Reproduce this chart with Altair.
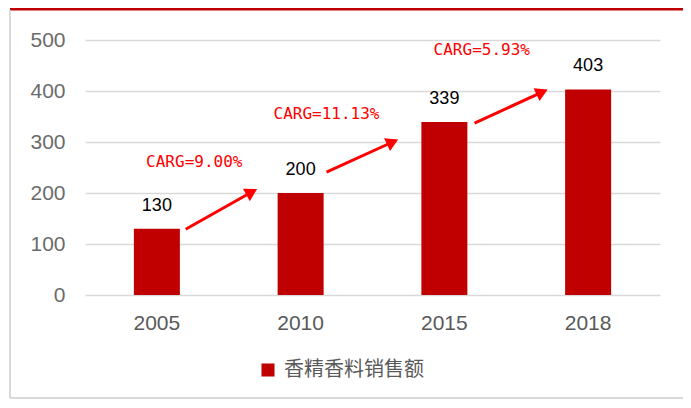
import altair as alt
import pandas as pd

years = ["2005", "2010", "2015", "2018"]
sales = [130, 200, 339, 403]
series_name = "香精香料销售额"

arrow_x0 = [0.70, 1.68, 2.71]
arrow_y0 = [129, 241, 337]
arrow_x1 = [1.16, 2.14, 3.18]
arrow_y1 = [202, 300, 398]
arrow_angle = [61, 65, 65]

note_text = ["CARG=9.00%", "CARG=11.13%", "CARG=5.93%"]
note_x = [0.76, 1.68, 2.76]
note_y = [261, 355, 480]

bars_df = pd.DataFrame({"year": years, "value": sales, "series": [series_name] * 4})
arrows_df = pd.DataFrame({"x0": arrow_x0, "y0": arrow_y0, "x1": arrow_x1, "y1": arrow_y1, "angle": arrow_angle})
notes_df = pd.DataFrame({"text": note_text, "x": note_x, "y": note_y})

W, H = 575, 255
RED = "#C00000"

yscale = alt.Scale(domain=[0, 500])
xband = alt.Scale(paddingInner=0.68, paddingOuter=0.34)

bars = alt.Chart(bars_df).mark_bar(color=RED).encode(
    x=alt.X("year:N", scale=xband, sort=years,
            axis=alt.Axis(title=None, labelAngle=0, domain=False, ticks=False, grid=False,
                          labelPadding=17, labelFontSize=21, labelColor="#595959",
                          labelFont="Liberation Sans")),
    y=alt.Y("value:Q", scale=yscale,
            axis=alt.Axis(title=None, values=[0, 100, 200, 300, 400, 500], domain=False,
                          ticks=False, labelPadding=20, labelFontSize=21,
                          labelColor="#6b6b6b", labelFont="Liberation Sans",
                          gridColor="#D9D9D9", gridWidth=1.5)),
    color=alt.Color("series:N", scale=alt.Scale(range=[RED]),
                    legend=alt.Legend(title=None, orient="none", legendX=173, legendY=320,
                                      symbolType="square", symbolSize=170,
                                      symbolStrokeWidth=0, labelFontSize=20,
                                      labelFont="Noto Sans CJK SC", labelColor="#595959",
                                      labelOffset=6)),
)

labels = alt.Chart(bars_df).mark_text(baseline="bottom", dy=-14, fontSize=18,
                                      font="Liberation Sans", color="black").encode(
    x=alt.X("year:N", scale=xband, sort=years),
    y=alt.Y("value:Q", scale=yscale),
    text="value:Q",
)

base_bar = alt.layer(bars, labels)

xq = alt.Scale(domain=[0, 4])

arrow_lines = alt.Chart(arrows_df).mark_rule(color="#FF0000", strokeWidth=3).encode(
    x=alt.X("x0:Q", scale=xq, axis=None),
    x2="x1:Q",
    y=alt.Y("y0:Q", scale=yscale),
    y2="y1:Q",
)

arrow_heads = alt.Chart(arrows_df).mark_point(shape="triangle-up", filled=True, size=200,
                                              color="#FF0000", opacity=1).encode(
    x=alt.X("x1:Q", scale=xq, axis=None),
    y=alt.Y("y1:Q", scale=yscale),
    angle=alt.Angle("angle:Q", scale=None),
)

notes = alt.Chart(notes_df).mark_text(fontSize=16, font="DejaVu Sans Mono", color="#FF0000").encode(
    x=alt.X("x:Q", scale=xq, axis=None),
    y=alt.Y("y:Q", scale=yscale),
    text="text:N",
)

frame_top = alt.Chart(pd.DataFrame({"a": [0]})).mark_rule(color=RED, strokeWidth=3).encode(
    x=alt.value(-75), x2=alt.value(620), y=alt.value(-31))
frame_left = alt.Chart(pd.DataFrame({"a": [0]})).mark_rule(color="#D9D9D9", strokeWidth=2).encode(
    x=alt.value(-75), y=alt.value(-30), y2=alt.value(358))
frame_bottom = alt.Chart(pd.DataFrame({"a": [0]})).mark_rule(color="#D9D9D9", strokeWidth=2).encode(
    x=alt.value(-75), x2=alt.value(620), y=alt.value(358))

annot = alt.layer(arrow_lines, arrow_heads, notes)

chart = alt.layer(frame_top, frame_left, frame_bottom, base_bar, annot).resolve_scale(
    x="independent"
).properties(
    width=W, height=H,
    background="white",
    autosize=alt.AutoSizeParams(type="none"),
    padding={"left": 77, "top": 32, "right": 23, "bottom": 105},
).configure_view(stroke="transparent", strokeOpacity=0).configure_axis(
    domain=False
).configure_axisX(grid=False)

chart.save("out.html", embed_options={"renderer": "svg", "actions": False})
